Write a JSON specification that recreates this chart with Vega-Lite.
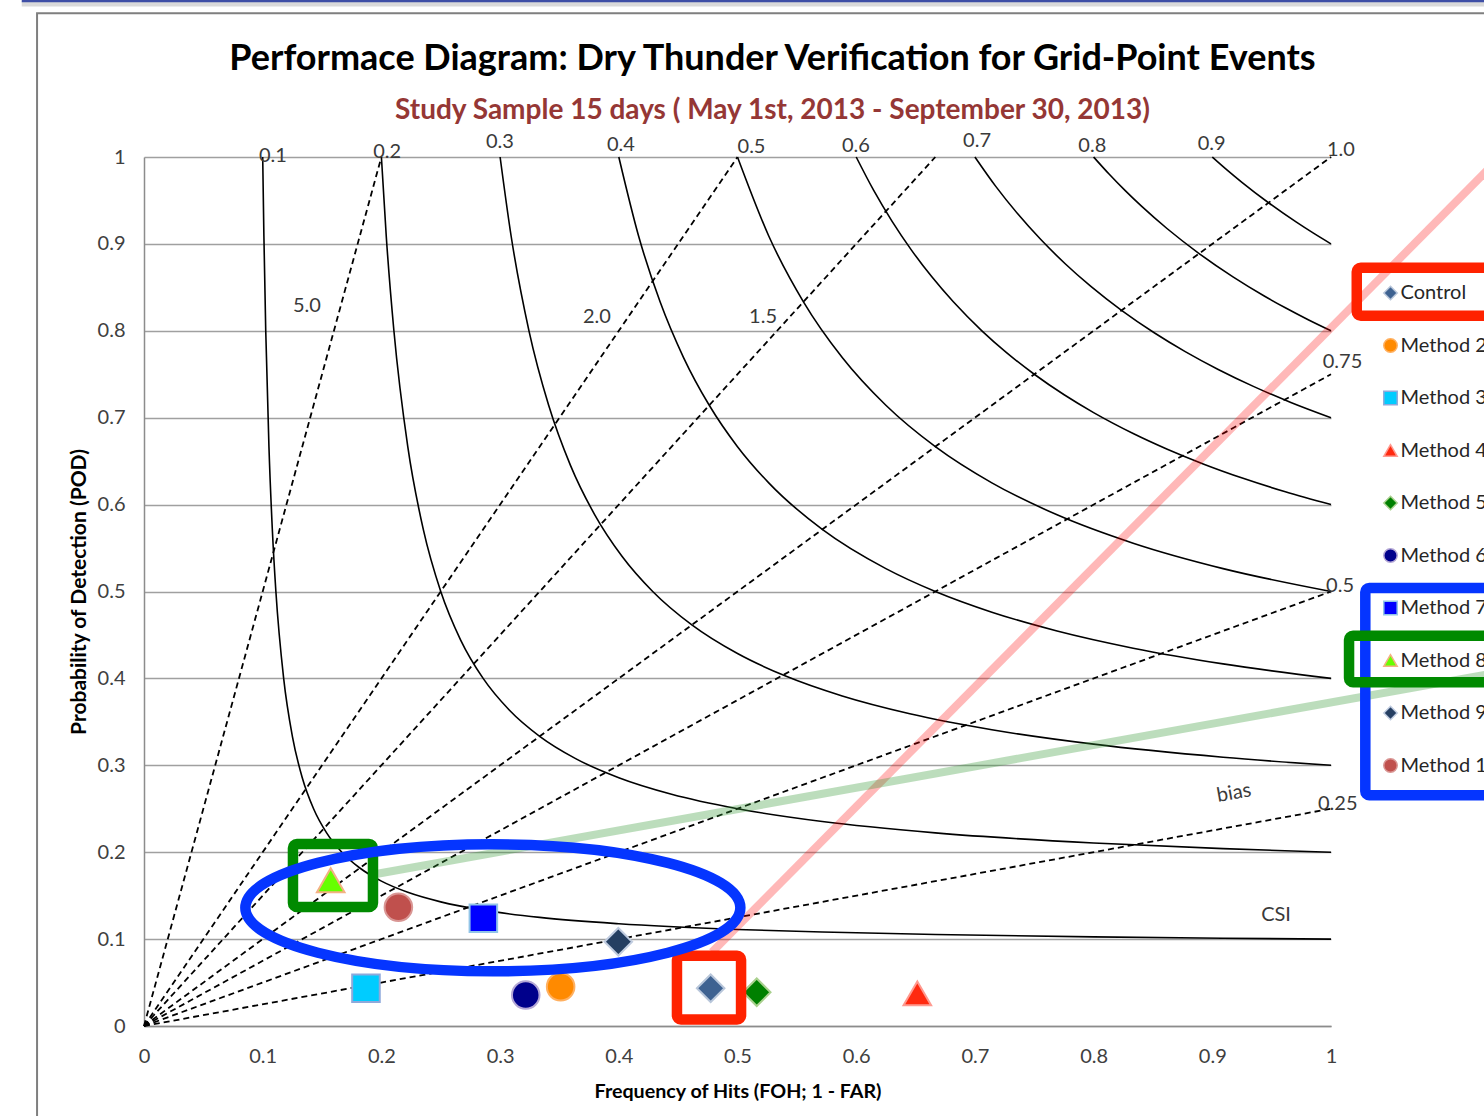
{
  "$schema": "https://vega.github.io/schema/vega-lite/v6.json",
  "width": 1187,
  "height": 869,
  "autosize": {"type": "none"},
  "padding": {"left": 144, "top": 157, "right": 153, "bottom": 90},
  "background": "white",
  "title": {
    "text": "Performace Diagram: Dry Thunder Verification for Grid-Point Events",
    "subtitle": "Study Sample 15 days ( May 1st, 2013 - September 30, 2013)",
    "anchor": "middle",
    "frame": "group",
    "dx": 35,
    "offset": -127,
    "font": "Lato",
    "fontSize": 36,
    "fontWeight": "bold",
    "color": "#000000",
    "subtitleFont": "Lato",
    "subtitleFontSize": 28,
    "subtitleFontWeight": "bold",
    "subtitleColor": "#953735",
    "subtitlePadding": 19
  },
  "config": {
    "view": {"stroke": null},
    "axis": {
      "domainColor": "#8C8C8C",
      "domainWidth": 1.5,
      "ticks": false,
      "tickSize": 0,
      "labelFont": "Lato",
      "labelFontSize": 20,
      "labelColor": "#404040",
      "labelFlush": false,
      "titleFont": "Lato",
      "titleFontSize": 18,
      "titleFontWeight": "bold",
      "titleColor": "#000000",
      "gridColor": "#A0A0A0",
      "gridWidth": 1.3
    },
    "legend": {
      "padding": 0,
      "labelFont": "Lato",
      "labelFontSize": 20,
      "labelColor": "#262626",
      "symbolSize": 180,
      "symbolStrokeWidth": 1.5,
      "labelOffset": 0,
      "rowPadding": 32.5,
      "labelLimit": 400
    }
  },
  "datasets": {
    "csi": [
      {"c": 0.1, "x": 0.1, "y": 1}, {"c": 0.1, "x": 0.10101, "y": 0.90909}, {"c": 0.1, "x": 0.10256, "y": 0.8}, {"c": 0.1, "x": 0.10526, "y": 0.66667}, {"c": 0.1, "x": 0.10811, "y": 0.57143}, {"c": 0.1, "x": 0.11111, "y": 0.5}, {"c": 0.1, "x": 0.11765, "y": 0.4}, {"c": 0.1, "x": 0.125, "y": 0.33333}, {"c": 0.1, "x": 0.13333, "y": 0.28571}, {"c": 0.1, "x": 0.14286, "y": 0.25}, {"c": 0.1, "x": 0.15385, "y": 0.22222}, {"c": 0.1, "x": 0.16667, "y": 0.2}, {"c": 0.1, "x": 0.18182, "y": 0.18182}, {"c": 0.1, "x": 0.2, "y": 0.16667}, {"c": 0.1, "x": 0.22222, "y": 0.15385}, {"c": 0.1, "x": 0.25, "y": 0.14286}, {"c": 0.1, "x": 0.28571, "y": 0.13333}, {"c": 0.1, "x": 0.33333, "y": 0.125}, {"c": 0.1, "x": 0.4, "y": 0.11765}, {"c": 0.1, "x": 0.5, "y": 0.11111}, {"c": 0.1, "x": 0.57143, "y": 0.10811}, {"c": 0.1, "x": 0.66667, "y": 0.10526}, {"c": 0.1, "x": 0.8, "y": 0.10256}, {"c": 0.1, "x": 0.90909, "y": 0.10101}, {"c": 0.1, "x": 1, "y": 0.1},
      {"c": 0.2, "x": 0.2, "y": 1}, {"c": 0.2, "x": 0.20408, "y": 0.90909}, {"c": 0.2, "x": 0.21053, "y": 0.8}, {"c": 0.2, "x": 0.22222, "y": 0.66667}, {"c": 0.2, "x": 0.23529, "y": 0.57143}, {"c": 0.2, "x": 0.25, "y": 0.5}, {"c": 0.2, "x": 0.26667, "y": 0.44444}, {"c": 0.2, "x": 0.28571, "y": 0.4}, {"c": 0.2, "x": 0.30769, "y": 0.36364}, {"c": 0.2, "x": 0.33333, "y": 0.33333}, {"c": 0.2, "x": 0.36364, "y": 0.30769}, {"c": 0.2, "x": 0.4, "y": 0.28571}, {"c": 0.2, "x": 0.44444, "y": 0.26667}, {"c": 0.2, "x": 0.5, "y": 0.25}, {"c": 0.2, "x": 0.57143, "y": 0.23529}, {"c": 0.2, "x": 0.66667, "y": 0.22222}, {"c": 0.2, "x": 0.8, "y": 0.21053}, {"c": 0.2, "x": 0.90909, "y": 0.20408}, {"c": 0.2, "x": 1, "y": 0.2},
      {"c": 0.3, "x": 0.3, "y": 1}, {"c": 0.3, "x": 0.30928, "y": 0.90909}, {"c": 0.3, "x": 0.32432, "y": 0.8}, {"c": 0.3, "x": 0.34091, "y": 0.71429}, {"c": 0.3, "x": 0.35928, "y": 0.64516}, {"c": 0.3, "x": 0.37975, "y": 0.58824}, {"c": 0.3, "x": 0.40268, "y": 0.54054}, {"c": 0.3, "x": 0.42857, "y": 0.5}, {"c": 0.3, "x": 0.46154, "y": 0.46154}, {"c": 0.3, "x": 0.5, "y": 0.42857}, {"c": 0.3, "x": 0.54054, "y": 0.40268}, {"c": 0.3, "x": 0.58824, "y": 0.37975}, {"c": 0.3, "x": 0.64516, "y": 0.35928}, {"c": 0.3, "x": 0.71429, "y": 0.34091}, {"c": 0.3, "x": 0.8, "y": 0.32432}, {"c": 0.3, "x": 0.90909, "y": 0.30928}, {"c": 0.3, "x": 1, "y": 0.3},
      {"c": 0.4, "x": 0.4, "y": 1}, {"c": 0.4, "x": 0.41667, "y": 0.90909}, {"c": 0.4, "x": 0.43478, "y": 0.83333}, {"c": 0.4, "x": 0.45455, "y": 0.76923}, {"c": 0.4, "x": 0.47619, "y": 0.71429}, {"c": 0.4, "x": 0.5, "y": 0.66667}, {"c": 0.4, "x": 0.52632, "y": 0.625}, {"c": 0.4, "x": 0.57143, "y": 0.57143}, {"c": 0.4, "x": 0.625, "y": 0.52632}, {"c": 0.4, "x": 0.66667, "y": 0.5}, {"c": 0.4, "x": 0.71429, "y": 0.47619}, {"c": 0.4, "x": 0.76923, "y": 0.45455}, {"c": 0.4, "x": 0.83333, "y": 0.43478}, {"c": 0.4, "x": 0.90909, "y": 0.41667}, {"c": 0.4, "x": 1, "y": 0.4},
      {"c": 0.5, "x": 0.5, "y": 1}, {"c": 0.5, "x": 0.52632, "y": 0.90909}, {"c": 0.5, "x": 0.55556, "y": 0.83333}, {"c": 0.5, "x": 0.58824, "y": 0.76923}, {"c": 0.5, "x": 0.625, "y": 0.71429}, {"c": 0.5, "x": 0.66667, "y": 0.66667}, {"c": 0.5, "x": 0.71429, "y": 0.625}, {"c": 0.5, "x": 0.76923, "y": 0.58824}, {"c": 0.5, "x": 0.83333, "y": 0.55556}, {"c": 0.5, "x": 0.90909, "y": 0.52632}, {"c": 0.5, "x": 1, "y": 0.5},
      {"c": 0.6, "x": 0.6, "y": 1}, {"c": 0.6, "x": 0.61475, "y": 0.96154}, {"c": 0.6, "x": 0.63025, "y": 0.92593}, {"c": 0.6, "x": 0.64655, "y": 0.89286}, {"c": 0.6, "x": 0.66372, "y": 0.86207}, {"c": 0.6, "x": 0.68182, "y": 0.83333}, {"c": 0.6, "x": 0.70588, "y": 0.8}, {"c": 0.6, "x": 0.72639, "y": 0.77519}, {"c": 0.6, "x": 0.75, "y": 0.75}, {"c": 0.6, "x": 0.77519, "y": 0.72639}, {"c": 0.6, "x": 0.8, "y": 0.70588}, {"c": 0.6, "x": 0.83333, "y": 0.68182}, {"c": 0.6, "x": 0.86207, "y": 0.66372}, {"c": 0.6, "x": 0.89286, "y": 0.64655}, {"c": 0.6, "x": 0.92593, "y": 0.63025}, {"c": 0.6, "x": 0.96154, "y": 0.61475}, {"c": 0.6, "x": 1, "y": 0.6},
      {"c": 0.7, "x": 0.7, "y": 1}, {"c": 0.7, "x": 0.71758, "y": 0.96618}, {"c": 0.7, "x": 0.73607, "y": 0.93458}, {"c": 0.7, "x": 0.75553, "y": 0.90498}, {"c": 0.7, "x": 0.77606, "y": 0.87719}, {"c": 0.7, "x": 0.79772, "y": 0.85106}, {"c": 0.7, "x": 0.82353, "y": 0.82353}, {"c": 0.7, "x": 0.85106, "y": 0.79772}, {"c": 0.7, "x": 0.87719, "y": 0.77606}, {"c": 0.7, "x": 0.90498, "y": 0.75553}, {"c": 0.7, "x": 0.93458, "y": 0.73607}, {"c": 0.7, "x": 0.96618, "y": 0.71758}, {"c": 0.7, "x": 1, "y": 0.7},
      {"c": 0.8, "x": 0.8, "y": 1}, {"c": 0.8, "x": 0.81301, "y": 0.98039}, {"c": 0.8, "x": 0.82645, "y": 0.96154}, {"c": 0.8, "x": 0.84034, "y": 0.9434}, {"c": 0.8, "x": 0.86207, "y": 0.91743}, {"c": 0.8, "x": 0.88889, "y": 0.88889}, {"c": 0.8, "x": 0.91743, "y": 0.86207}, {"c": 0.8, "x": 0.9434, "y": 0.84034}, {"c": 0.8, "x": 0.96154, "y": 0.82645}, {"c": 0.8, "x": 0.98039, "y": 0.81301}, {"c": 0.8, "x": 1, "y": 0.8},
      {"c": 0.9, "x": 0.9, "y": 1}, {"c": 0.9, "x": 0.91232, "y": 0.98522}, {"c": 0.9, "x": 0.92497, "y": 0.97087}, {"c": 0.9, "x": 0.94737, "y": 0.94737}, {"c": 0.9, "x": 0.97087, "y": 0.92497}, {"c": 0.9, "x": 0.98522, "y": 0.91232}, {"c": 0.9, "x": 1, "y": 0.9}
    ],
    "bias": [
      {"b": 5.0, "x": 0, "y": 0, "x2": 0.2, "y2": 1},
      {"b": 2.0, "x": 0, "y": 0, "x2": 0.5, "y2": 1},
      {"b": 1.5, "x": 0, "y": 0, "x2": 0.66667, "y2": 1},
      {"b": 1.0, "x": 0, "y": 0, "x2": 1, "y2": 1},
      {"b": 0.75, "x": 0, "y": 0, "x2": 1, "y2": 0.75},
      {"b": 0.5, "x": 0, "y": 0, "x2": 1, "y2": 0.5},
      {"b": 0.25, "x": 0, "y": 0, "x2": 1, "y2": 0.25}
    ],
    "labels": [
      {"t": "0.1", "x": 0.1086, "y": 1.0012},
      {"t": "0.2", "x": 0.2048, "y": 1.0052},
      {"t": "0.3", "x": 0.2998, "y": 1.0167},
      {"t": "0.4", "x": 0.4018, "y": 1.0141},
      {"t": "0.5", "x": 0.5118, "y": 1.0111},
      {"t": "0.6", "x": 0.5998, "y": 1.0128},
      {"t": "0.7", "x": 0.7018, "y": 1.018},
      {"t": "0.8", "x": 0.7989, "y": 1.0128},
      {"t": "0.9", "x": 0.8994, "y": 1.0146},
      {"t": "1.0", "x": 1.0084, "y": 1.008},
      {"t": "5.0", "x": 0.1373, "y": 0.8285},
      {"t": "2.0", "x": 0.3816, "y": 0.8159},
      {"t": "1.5", "x": 0.5215, "y": 0.8159},
      {"t": "0.75", "x": 1.0097, "y": 0.7641},
      {"t": "0.5", "x": 1.0076, "y": 0.5058},
      {"t": "0.25", "x": 1.0057, "y": 0.2555},
      {"t": "CSI", "x": 0.9537, "y": 0.1277}
    ],
    "methods": [
      {"method": "Control", "x": 0.4774, "y": 0.0434},
      {"method": "Method 2", "x": 0.351, "y": 0.0452},
      {"method": "Method 3", "x": 0.187, "y": 0.0434},
      {"method": "Method 4", "x": 0.6515, "y": 0.0376},
      {"method": "Method 5", "x": 0.5162, "y": 0.0388},
      {"method": "Method 6", "x": 0.3216, "y": 0.0357},
      {"method": "Method 7", "x": 0.2859, "y": 0.1239},
      {"method": "Method 8", "x": 0.1573, "y": 0.1677},
      {"method": "Method 9", "x": 0.3996, "y": 0.097},
      {"method": "Method 10", "x": 0.2143, "y": 0.1366}
    ]
  },
  "layer": [
    {
      "data": {"values": [{"x": -0.0901, "x2": 1.3, "y": -0.3, "y2": 1.1654}]},
      "mark": {"type": "rect", "filled": false, "stroke": "#7F7F7F", "strokeWidth": 2, "clip": false},
      "encoding": {
        "x": {"field": "x", "type": "quantitative", "scale": {"domain": [0, 1], "nice": false, "zero": false},
          "axis": {"title": "Frequency of Hits (FOH; 1 - FAR)", "grid": false, "values": [0, 0.1, 0.2, 0.3, 0.4, 0.5, 0.6, 0.7, 0.8, 0.9, 1], "format": "~g", "labelPadding": 20, "titlePadding": 15, "titleFontSize": 19.7}},
        "x2": {"field": "x2"},
        "y": {"field": "y", "type": "quantitative", "scale": {"domain": [0, 1], "nice": false, "zero": false},
          "axis": {"title": "Probability of Detection (POD)", "grid": true, "values": [0, 0.1, 0.2, 0.3, 0.4, 0.5, 0.6, 0.7, 0.8, 0.9, 1], "format": "~g", "labelPadding": 19, "titlePadding": 7.5, "titleFontSize": 21}},
        "y2": {"field": "y2"}
      }
    },
    {
      "data": {"values": [{"x": -0.103, "x2": 1.3, "y": 1.1761, "y2": 1.1761}]},
      "mark": {"type": "rule", "stroke": "#DADADA", "strokeWidth": 5, "clip": false},
      "encoding": {"x": {"field": "x", "type": "quantitative"}, "x2": {"field": "x2"}, "y": {"field": "y", "type": "quantitative"}, "y2": {"field": "y2"}}
    },
    {
      "data": {"values": [{"x": -0.103, "x2": 1.3, "y": 1.1797, "y2": 1.1797}]},
      "mark": {"type": "rule", "stroke": "#3F4FA6", "strokeWidth": 3, "clip": false},
      "encoding": {"x": {"field": "x", "type": "quantitative"}, "x2": {"field": "x2"}, "y": {"field": "y", "type": "quantitative"}, "y2": {"field": "y2"}}
    },
    {
      "data": {"name": "csi"},
      "mark": {"type": "line", "stroke": "#000000", "strokeWidth": 1.6, "interpolate": "monotone"},
      "encoding": {"x": {"field": "x", "type": "quantitative"}, "y": {"field": "y", "type": "quantitative"}, "detail": {"field": "c", "type": "nominal"}}
    },
    {
      "data": {"name": "bias"},
      "mark": {"type": "rule", "stroke": "#000000", "strokeWidth": 1.8, "strokeDash": [6, 4]},
      "encoding": {"x": {"field": "x", "type": "quantitative"}, "x2": {"field": "x2"}, "y": {"field": "y", "type": "quantitative"}, "y2": {"field": "y2"}}
    },
    {
      "data": {"name": "labels"},
      "mark": {"type": "text", "font": "Lato", "fontSize": 20, "color": "#3A3A3A", "align": "center", "baseline": "middle", "clip": false},
      "encoding": {"x": {"field": "x", "type": "quantitative"}, "y": {"field": "y", "type": "quantitative"}, "text": {"field": "t"}}
    },
    {
      "data": {"values": [{"t": "bias", "x": 0.9183, "y": 0.2681}]},
      "mark": {"type": "text", "font": "Lato", "fontSize": 20, "color": "#3A3A3A", "align": "center", "baseline": "middle", "angle": -10},
      "encoding": {"x": {"field": "x", "type": "quantitative"}, "y": {"field": "y", "type": "quantitative"}, "text": {"field": "t"}}
    },
    {
      "data": {"values": [{"x": 0.4785, "y": 0.085, "x2": 1.2, "y2": 1.079}]},
      "mark": {"type": "rule", "stroke": "#FF0000", "strokeOpacity": 0.28, "strokeWidth": 8, "clip": false},
      "encoding": {"x": {"field": "x", "type": "quantitative"}, "x2": {"field": "x2"}, "y": {"field": "y", "type": "quantitative"}, "y2": {"field": "y2"}}
    },
    {
      "data": {"values": [{"x": 0.1955, "y": 0.1749, "x2": 1.2, "y2": 0.4214}]},
      "mark": {"type": "rule", "stroke": "#339933", "strokeOpacity": 0.33, "strokeWidth": 8, "clip": false},
      "encoding": {"x": {"field": "x", "type": "quantitative"}, "x2": {"field": "x2"}, "y": {"field": "y", "type": "quantitative"}, "y2": {"field": "y2"}}
    },
    {
      "data": {"name": "methods"},
      "mark": {"type": "point", "filled": true, "size": 760, "strokeWidth": 2, "opacity": 1},
      "encoding": {
        "x": {"field": "x", "type": "quantitative"},
        "y": {"field": "y", "type": "quantitative"},
        "fill": {"field": "method", "type": "nominal",
          "scale": {"domain": ["Control", "Method 2", "Method 3", "Method 4", "Method 5", "Method 6", "Method 7", "Method 8", "Method 9", "Method 10"],
            "range": ["#3E6291", "#FF8A00", "#00CCFF", "#FF2A10", "#008000", "#00008B", "#0000FF", "#66FF00", "#253F62", "#C0504D"]},
          "legend": {"orient": "none", "legendX": 1236.5, "legendY": 126, "title": null}},
        "stroke": {"field": "method", "type": "nominal",
          "scale": {"domain": ["Control", "Method 2", "Method 3", "Method 4", "Method 5", "Method 6", "Method 7", "Method 8", "Method 9", "Method 10"],
            "range": ["#B8C6DA", "#FFB060", "#8EA9DB", "#FF9A90", "#A9D08E", "#B4A7D6", "#92C5E8", "#F4B183", "#C0CCE0", "#D99694"]},
          "legend": {"orient": "none", "legendX": 1236.5, "legendY": 126, "title": null}},
        "shape": {"field": "method", "type": "nominal",
          "scale": {"domain": ["Control", "Method 2", "Method 3", "Method 4", "Method 5", "Method 6", "Method 7", "Method 8", "Method 9", "Method 10"],
            "range": ["diamond", "circle", "square", "triangle-up", "diamond", "circle", "square", "triangle-up", "diamond", "circle"]},
          "legend": {"orient": "none", "legendX": 1236.5, "legendY": 126, "title": null}}
      }
    },
    {
      "data": {"values": [{"x": 1.0289, "x2": 1.3, "y": 0.2655, "y2": 0.504}]},
      "mark": {"type": "rect", "filled": false, "stroke": "#0535FF", "strokeWidth": 10.5, "cornerRadius": 4, "clip": false},
      "encoding": {"x": {"field": "x", "type": "quantitative"}, "x2": {"field": "x2"}, "y": {"field": "y", "type": "quantitative"}, "y2": {"field": "y2"}}
    },
    {
      "data": {"values": [{"x": 0.1255, "x2": 0.1929, "y": 0.1369, "y2": 0.2094}, {"x": 1.0152, "x2": 1.3, "y": 0.3955, "y2": 0.449}]},
      "mark": {"type": "rect", "filled": false, "stroke": "#008A00", "strokeWidth": 10.5, "cornerRadius": 4, "clip": false},
      "encoding": {"x": {"field": "x", "type": "quantitative"}, "x2": {"field": "x2"}, "y": {"field": "y", "type": "quantitative"}, "y2": {"field": "y2"}}
    },
    {
      "data": {"values": [{"x": 0.449, "x2": 0.503, "y": 0.0075, "y2": 0.0808}, {"x": 1.0217, "x2": 1.3, "y": 0.8174, "y2": 0.8725}]},
      "mark": {"type": "rect", "filled": false, "stroke": "#FF2200", "strokeWidth": 10.5, "cornerRadius": 4, "clip": false},
      "encoding": {"x": {"field": "x", "type": "quantitative"}, "x2": {"field": "x2"}, "y": {"field": "y", "type": "quantitative"}, "y2": {"field": "y2"}}
    },
    {
      "data": {"values": [{"x": 0.2939, "y": 0.136}]},
      "mark": {"type": "point", "filled": false, "stroke": "#0535FF", "strokeWidth": 10.5, "opacity": 1, "size": 245025,
        "shape": "M1,0C1,0.1417 0.5523,0.2566 0,0.2566C-0.5523,0.2566 -1,0.1417 -1,0C-1,-0.1417 -0.5523,-0.2566 0,-0.2566C0.5523,-0.2566 1,-0.1417 1,0Z"},
      "encoding": {"x": {"field": "x", "type": "quantitative"}, "y": {"field": "y", "type": "quantitative"}}
    }
  ]
}
